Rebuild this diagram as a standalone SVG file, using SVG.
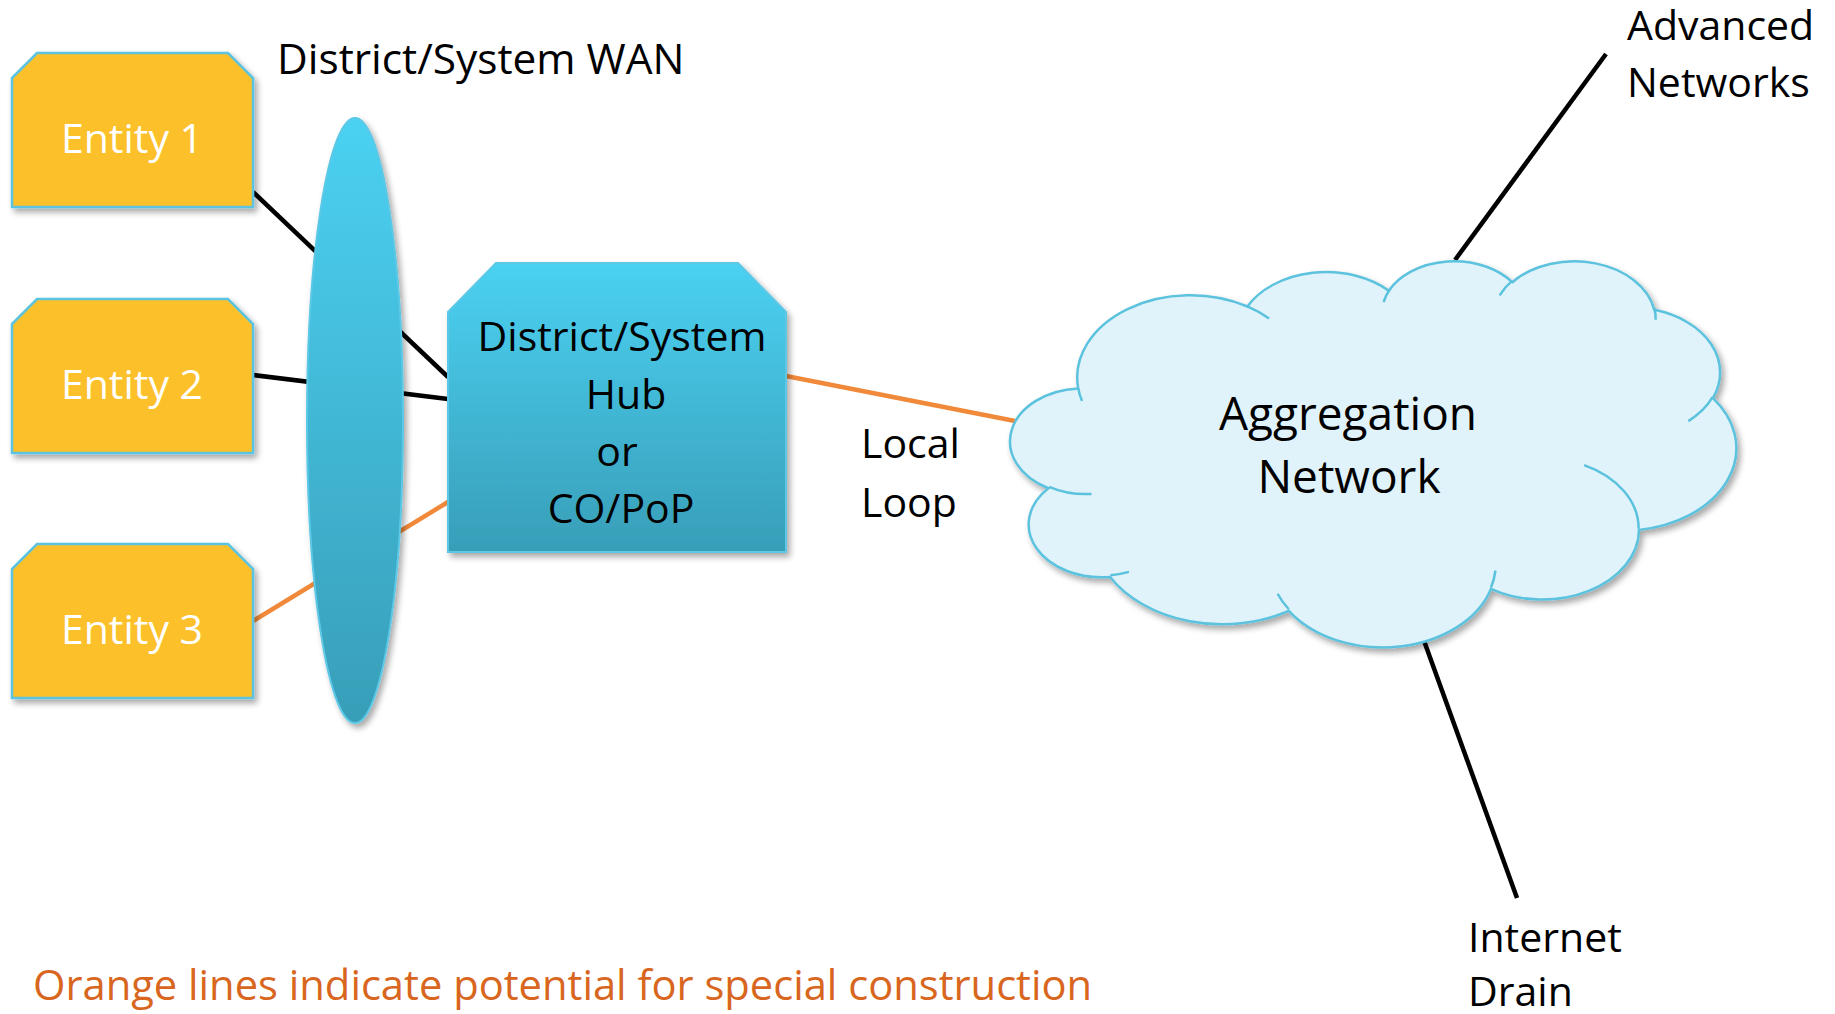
<svg xmlns="http://www.w3.org/2000/svg" width="1835" height="1014" viewBox="0 0 1835 1014">
  <defs>
    <linearGradient id="blueGrad" x1="0" y1="0" x2="0" y2="1">
      <stop offset="0" stop-color="#4BD1F2"/>
      <stop offset="1" stop-color="#389EB8"/>
    </linearGradient>
    <filter id="shadow" x="-20%" y="-20%" width="140%" height="140%">
      <feGaussianBlur in="SourceAlpha" stdDeviation="3"/>
      <feOffset dx="3" dy="4" result="b"/>
      <feComponentTransfer><feFuncA type="linear" slope="0.35"/></feComponentTransfer>
      <feMerge><feMergeNode/><feMergeNode in="SourceGraphic"/></feMerge>
    </filter>
    <style>
      .txt { font-family: "Open Sans", "Liberation Sans", sans-serif; font-size: 41px; fill: #000; }
      .wtxt { font-family: "Open Sans", "Liberation Sans", sans-serif; font-size: 41px; fill: #FFFFFF; }
      .entity { fill: #FCC12A; stroke: #5BC4E0; stroke-width: 2.5; }
      .blue { fill: url(#blueGrad); stroke: #5BC8E6; stroke-width: 2; }
      .cloud { fill: #E0F3FA; stroke: #5BC2DE; stroke-width: 2.5; vector-effect: non-scaling-stroke; }
      .cloudin { fill: none; stroke: #5BC2DE; stroke-width: 2.5; vector-effect: non-scaling-stroke; }
      .blk { stroke: #000; stroke-width: 4.5; fill: none; }
      .org { stroke: #F0893A; stroke-width: 4.5; fill: none; }
    </style>
  </defs>
  <rect width="1835" height="1014" fill="#FFFFFF"/>

  <g id="connectors">
    <line class="blk" x1="253" y1="192" x2="448" y2="377"/>
    <line class="blk" x1="253" y1="375" x2="448" y2="399"/>
    <line class="org" x1="253" y1="621" x2="448" y2="502"/>
    <line class="org" x1="786" y1="376" x2="1015" y2="421"/>
    <line class="blk" x1="1455" y1="260" x2="1606" y2="54"/>
    <line class="blk" x1="1423" y1="638" x2="1517" y2="898"/>
  </g>

  <g id="wan" filter="url(#shadow)">
    <ellipse class="blue" cx="355" cy="420.5" rx="48" ry="302.5"/>
  </g>
  <text id="wan-label" class="txt" x="277" y="74" style="font-size:42.4px">District/System WAN</text>

  <g id="entity1">
    <polygon class="entity" filter="url(#shadow)" points="12,78 37,53 228,53 253,78 253,207 12,207"/>
    <text class="wtxt" x="132" y="153" text-anchor="middle">Entity 1</text>
  </g>
  <g id="entity2">
    <polygon class="entity" filter="url(#shadow)" points="12,324 37,299 228,299 253,324 253,453 12,453"/>
    <text class="wtxt" x="132" y="399" text-anchor="middle">Entity 2</text>
  </g>
  <g id="entity3">
    <polygon class="entity" filter="url(#shadow)" points="12,569 37,544 228,544 253,569 253,698 12,698"/>
    <text class="wtxt" x="132" y="644" text-anchor="middle">Entity 3</text>
  </g>

  <g id="hub">
    <polygon class="blue" filter="url(#shadow)" points="448,312 496,263 738,263 786,312 786,552 448,552"/>
    <text class="txt" x="622" y="351" text-anchor="middle">District/System</text>
    <text class="txt" x="626" y="409" text-anchor="middle">Hub</text>
    <text class="txt" x="617" y="466" text-anchor="middle">or</text>
    <text class="txt" x="621" y="523" text-anchor="middle">CO/PoP</text>
  </g>

  <g id="local-loop-label">
    <text class="txt" x="861" y="458">Local</text>
    <text class="txt" x="861" y="517">Loop</text>
  </g>

  <g id="aggregation">
    <g filter="url(#shadow)">
      <g transform="translate(1013,260) scale(0.016736,0.0089352)">
        <path class="cloud" d="M3900,14370 A6753,9190 0 0 1 14005,5202 A5333,7267 0 0 1 22457,3433 A4365,5945 0 0 1 29835,2483 A4857,6595 0 0 1 38320,5579 A5333,7273 0 0 1 41820,15463 A6775,9220 0 0 1 37405,30204 A5785,7867 0 0 1 28557,36814 A6752,9215 0 0 1 16481,39264 A7720,10543 0 0 1 5805,35468 A4360,5918 0 0 1 2115,25545 A4345,5945 0 0 1 3900,14370 Z"/>
      </g>
    </g>
    <g transform="translate(1013,260) scale(0.016736,0.0089352)">
      <path class="cloudin" d="M4693,26177 A4345,5945 0 0 1 2160,25380 M6928,34899 A4360,5918 0 0 1 5819,35281 M16478,39090 A6752,9215 0 0 1 15811,37350 M28827,34751 A6752,9215 0 0 1 28560,36660 M34129,22954 A5785,7867 0 0 1 37381,30090 M41798,15354 A5333,7273 0 0 1 40350,18030 M38324,5426 A4857,6595 0 0 1 38400,6690 M29078,3952 A4857,6595 0 0 1 29821,2338 M22141,4720 A4365,5945 0 0 1 22500,3331 M14000,5192 A6753,9190 0 0 1 15301,6542 M4127,15789 A6753,9190 0 0 1 3900,14371"/>
    </g>
    <text class="txt" x="1348" y="430" text-anchor="middle" style="font-size:46px">Aggregation</text>
    <text class="txt" x="1349" y="493" text-anchor="middle" style="font-size:46px">Network</text>
  </g>

  <g id="advanced-networks">
    <text class="txt" x="1627" y="40">Advanced</text>
    <text class="txt" x="1627" y="97">Networks</text>
  </g>

  <g id="internet-drain">
    <text class="txt" x="1468" y="952">Internet</text>
    <text class="txt" x="1468" y="1006">Drain</text>
  </g>

  <text id="note" x="33" y="1000" style="font-family:'Open Sans','Liberation Sans',sans-serif;font-size:41.7px;fill:#D8661E">Orange lines indicate potential for special construction</text>
</svg>
